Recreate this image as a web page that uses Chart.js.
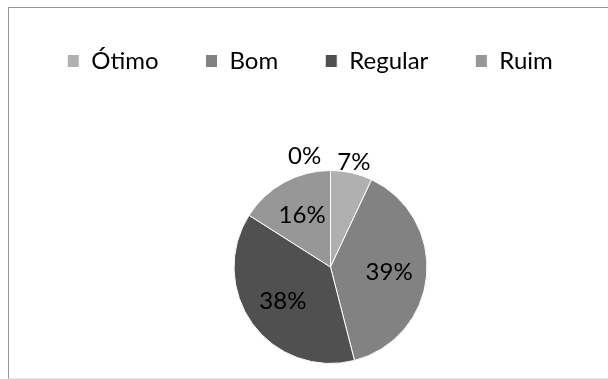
<!DOCTYPE html>
<html>
<head>
<meta charset="utf-8">
<script src="https://cdn.jsdelivr.net/npm/chart.js@4/dist/chart.umd.min.js"></script>
<style>
  html, body { margin: 0; padding: 0; background: #fff; width: 608px; height: 379px; overflow: hidden; }
  #frame { position: absolute; left: 8px; top: 7px; width: 640px; height: 370px;
           border-left: 1px solid #959595; border-top: 1px solid #959595; border-bottom: 1px solid #e3e3e3; }
  #wrap { position: absolute; left: 0; top: 0; width: 608px; height: 379px; }
</style>
</head>
<body>
<div id="frame"></div>
<div id="wrap"><canvas id="c" width="608" height="379"></canvas></div>
<script>
// ---- data ----
const categories = ['Ótimo', 'Bom', 'Regular', 'Ruim', 'Péssimo'];
const percentValues = [7, 39, 38, 16, 0];
const legendCategories = ['Ótimo', 'Bom', 'Regular', 'Ruim'];
const sliceColors = ['#b0b0b0', '#828282', '#505050', '#979797', '#6a6a6a'];

const FONT = 'Lato, "Open Sans", sans-serif';

// plot area placement (layout only)
const plotArea = { centerX: 330.5, centerY: 267, size: 194 };

const placePlot = {
  id: 'placePlot',
  afterLayout(chart) {
    const ca = chart.chartArea;
    const h = plotArea.size / 2;
    ca.left = plotArea.centerX - h;
    ca.right = plotArea.centerX + h;
    ca.top = plotArea.centerY - h;
    ca.bottom = plotArea.centerY + h;
    ca.width = ca.right - ca.left;
    ca.height = ca.bottom - ca.top;
  }
};

const sliceLabels = {
  id: 'sliceLabels',
  afterDatasetsDraw(chart) {
    const ctx = chart.ctx;
    const meta = chart.getDatasetMeta(0);
    ctx.save();
    ctx.font = '24px ' + FONT;
    ctx.fillStyle = '#000';
    ctx.textAlign = 'center';
    ctx.textBaseline = 'middle';
    meta.data.forEach((arc, i) => {
      const v = percentValues[i];
      const p = arc.getProps(['x', 'y', 'startAngle', 'endAngle', 'outerRadius']);
      let mid = (p.startAngle + p.endAngle) / 2;
      let r;
      if (v === 0) { r = p.outerRadius + 17; mid -= 0.23; }
      else if (v < 10) { r = p.outerRadius + 11; }
      else { r = p.outerRadius * 0.61; }
      const x = p.x + Math.cos(mid) * r;
      const y = p.y + Math.sin(mid) * r;
      ctx.fillText(v + '%', x, y);
    });
    ctx.restore();
  }
};

new Chart(document.getElementById('c'), {
  type: 'pie',
  data: {
    labels: categories,
    datasets: [{
      data: percentValues,
      backgroundColor: sliceColors,
      borderColor: '#ffffff',
      borderWidth: 1
    }]
  },
  options: {
    responsive: false,
    animation: false,
    layout: { padding: { left: 12, right: 0, top: 2, bottom: 10 } },
    plugins: {
      tooltip: { enabled: false },
      legend: {
        position: 'top',
        labels: {
          font: { family: FONT, size: 24 },
          color: '#000',
          boxWidth: 12,
          boxHeight: 13,
          padding: 47,
          filter: (item) => legendCategories.includes(item.text)
        }
      }
    }
  },
  plugins: [placePlot, sliceLabels]
});
</script>
</body>
</html>
